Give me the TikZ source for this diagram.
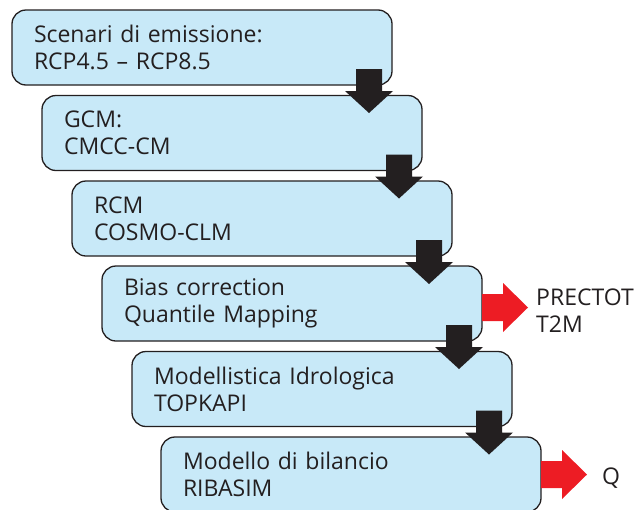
\documentclass[tikz,border=0pt]{standalone}
\usepackage{fontspec}
\setmainfont{Open Sans}
\usetikzlibrary{calc}
\definecolor{boxfill}{HTML}{C8E9F8}
\definecolor{ink}{HTML}{231F20}
\definecolor{flowred}{HTML}{ED1C24}
\begin{document}
\begin{tikzpicture}[x=1pt,y=-1pt,
  stage/.style={draw=ink, line width=1.3pt, fill=boxfill, rounded corners=14pt,
    minimum width=378pt, minimum height=75pt, outer sep=0pt, anchor=north west,
    text width=336pt, align=left, inner xsep=22pt, inner ysep=0pt,
    font=\fontsize{23}{27}\selectfont, text=ink},
  outlabel/.style={anchor=west, align=left, inner sep=0pt,
    font=\fontsize{23}{27}\selectfont, text=ink}]
\useasboundingbox (0,0) rectangle (644,509);

% the six stages of the modelling chain, stepped to the right
\node[stage] (b1) at (12,10)    {Scenari di emissione:\\RCP4.5 – RCP8.5};
\node[stage] (b2) at (42,95.5)  {GCM:\\CMCC-CM};
\node[stage] (b3) at (72,181)   {RCM\\COSMO-CLM};
\node[stage] (b4) at (102,266)  {Bias correction\\Quantile Mapping};
\node[stage] (b5) at (132,351.5){Modellistica Idrologica\\TOPKAPI};
\node[stage] (b6) at (161,437)  {Modello di bilancio\\RIBASIM};

% block arrows linking each stage to the next one
\foreach \i/\j in {1/2,2/3,3/4,4/5,5/6}{
  \fill[ink] ($(b\i.south east)+(-23,-16)$) ++(-13,0) -- ++(26,0) -- ++(0,22)
    -- ++(11,0) -- ++(-24,22) -- ++(-24,-22) -- ++(11,0) -- cycle;
}

% outputs
\node[outlabel] (o1) at ($(b4.east)+(54,7)$) {PRECTOT\\T2M};
\node[outlabel] (o2) at ($(b6.east)+(61,4)$) {Q};
\fill[flowred] (b4.east) ++(0,4) ++(0,-13.5) -- ++(21,0) -- ++(0,-11)
  -- ++(25,24.5) -- ++(-25,24.5) -- ++(0,-11) -- ++(-21,0) -- cycle;
\fill[flowred] (b6.east) ++(0,0) ++(0,-13.5) -- ++(21,0) -- ++(0,-11)
  -- ++(25,24.5) -- ++(-25,24.5) -- ++(0,-11) -- ++(-21,0) -- cycle;
\end{tikzpicture}
\end{document}
